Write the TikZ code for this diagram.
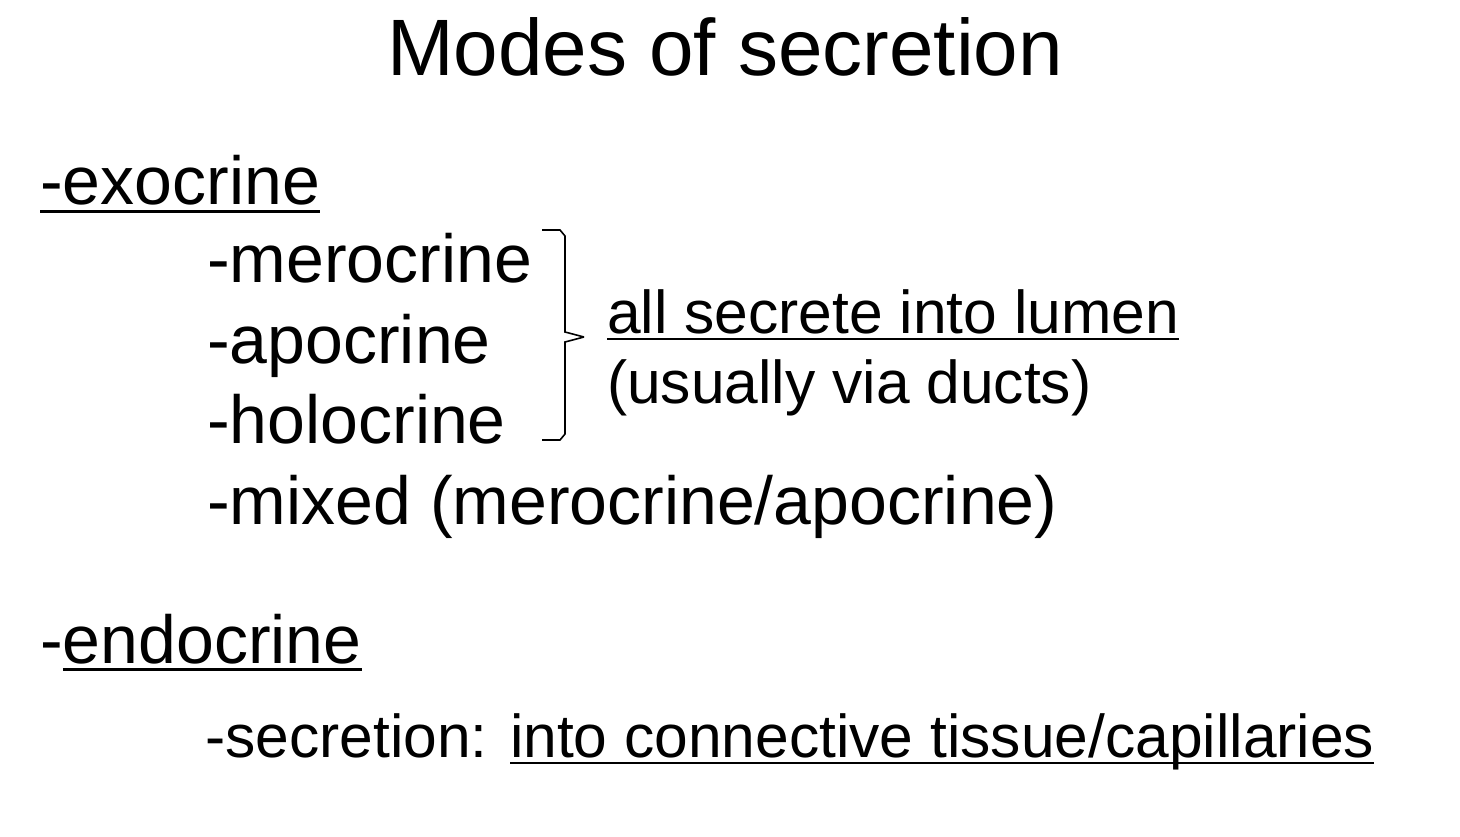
\documentclass[tikz,border=0pt]{standalone}
\usepackage{fontspec}
\setmainfont{Liberation Sans}
\newcommand{\ul}[1]{\setbox0\hbox{#1}\leavevmode\rlap{\rule[-0.12em]{\wd0}{0.045em}}\box0}
\begin{document}
\begin{tikzpicture}[x=1pt,y=-1pt,
  big/.style={anchor=base west,inner sep=0pt,font=\fontsize{68}{70}\selectfont},
  mid/.style={anchor=base west,inner sep=0pt,font=\fontsize{60.5}{64}\selectfont}]
\useasboundingbox[fill=white] (0,0) rectangle (1460,837);
\node[anchor=base,inner sep=0pt,font=\fontsize{80}{84}\selectfont] (title) at (725,76) {Modes of secretion};
\node[big] (exo) at (40,205) {\ul{-exocrine}};
\node[big] (mero) at (207,283) {-merocrine};
\node[big] (apo) at (207,363) {-apocrine};
\node[big] (holo) at (207,443) {-holocrine};
\node[big] (mix) at (207,524) {-mixed (merocrine/apocrine)};
\node[mid] (all) at (607,333) {\ul{all secrete into lumen}};
\node[mid] (duct) at (607,403) {(usually via ducts)};
\node[big] (endo) at (40,663) {-\ul{endocrine}};
\node[mid] (sec) at (205,757) {-secretion: \ul{into connective tissue/capillaries}};
\coordinate (b1) at (542,230);
\coordinate (b2) at (542,440);
\coordinate (tip) at (584,337);
\draw[line width=1.6pt] (b1) -- (560,230) -- (565,236) -- (565,332) -- (tip);
\draw[line width=1.6pt] (tip) -- (565,342) -- (565,434) -- (560,440) -- (b2);
\end{tikzpicture}
\end{document}
